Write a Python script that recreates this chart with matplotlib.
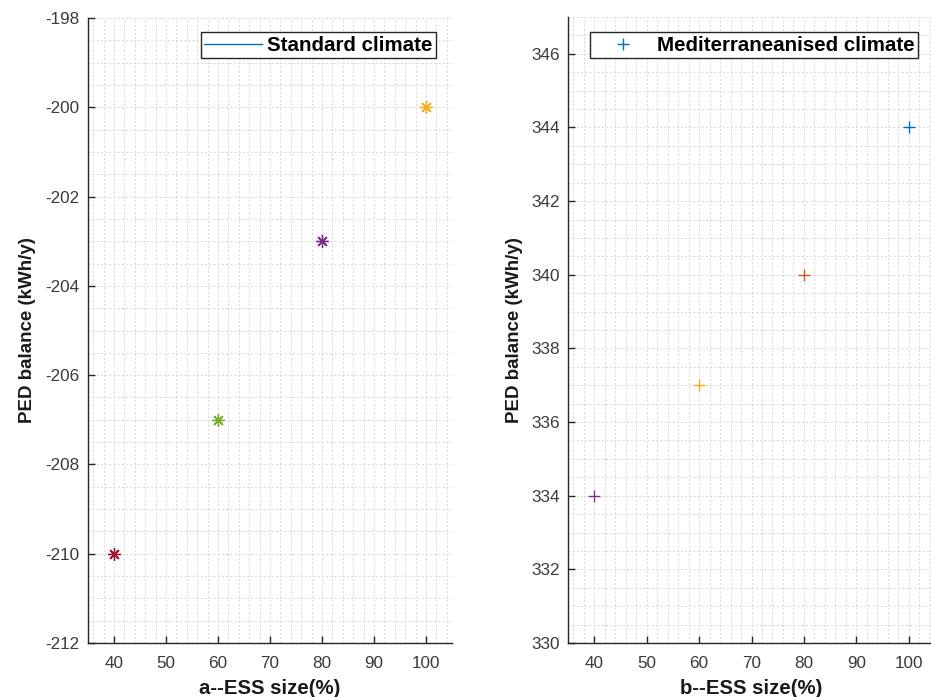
import matplotlib
matplotlib.use('Agg')
import matplotlib.pyplot as plt
from matplotlib.lines import Line2D
from matplotlib.ticker import MultipleLocator

# ESS size (%) and resulting PED balance (kWh/y)
ess_size = [40, 60, 80, 100]
standard_balance = [-210, -207, -203, -200]
medit_balance = [334, 337, 340, 344]

standard_colors = ['#A2142F', '#77AC30', '#7E2F8E', '#EDB120']
medit_colors = ['#7E2F8E', '#EDB120', '#D95319', '#0072BD']

plt.rcParams['font.family'] = ['Liberation Sans', 'DejaVu Sans']
plt.rcParams['axes.unicode_minus'] = False

W, H = 931, 697
fig = plt.figure(figsize=(W / 100, H / 100), dpi=100)

AX_COLOR = '#262626'
ASTERISK = (8, 2, 0)


def style_axes(ax, ylim, yticks):
    ax.set_xlim(35, 105)
    ax.set_ylim(*ylim)
    ax.set_xticks([40, 50, 60, 70, 80, 90, 100])
    ax.set_yticks(yticks)
    ax.xaxis.set_minor_locator(MultipleLocator(2))
    ax.yaxis.set_minor_locator(MultipleLocator(0.5))
    ax.set_axisbelow(True)
    ax.grid(which='both', color='#d9d9d9', linestyle=(0, (2, 2)), linewidth=0.75)
    for side in ('top', 'right'):
        ax.spines[side].set_visible(False)
    for side in ('left', 'bottom'):
        ax.spines[side].set_color(AX_COLOR)
        ax.spines[side].set_linewidth(1.0)
    ax.tick_params(which='major', direction='in', length=5, width=1.0,
                   color=AX_COLOR, labelcolor='#3a3a3a', labelsize=12.3)
    ax.tick_params(axis='x', which='major', pad=9)
    ax.tick_params(axis='y', which='major', pad=6)
    ax.tick_params(which='minor', length=0)


def legend_box(ax, handle, label, right_px):
    leg = ax.legend([handle], [label], loc='upper right',
                    bbox_to_anchor=(right_px / W, 1 - 32 / H), bbox_transform=fig.transFigure,
                    prop={'size': 14.8, 'weight': 'bold'}, handlelength=2.8, numpoints=1,
                    handletextpad=0.25, borderpad=0.18, borderaxespad=0,
                    fancybox=False, framealpha=1, edgecolor=AX_COLOR)
    leg.get_frame().set_linewidth(1.0)
    return leg


# (a) standard climate
ax1 = fig.add_axes([88 / W, 1 - 643 / H, 364 / W, 625 / H])
for x, y, c in zip(ess_size, standard_balance, standard_colors):
    ax1.plot([x], [y], linestyle='none', marker=ASTERISK, markersize=9,
             markeredgewidth=1.0, color=c)
style_axes(ax1, (-212, -198), list(range(-212, -197, 2)))
ax1.set_xlabel('a--ESS size(%)', fontsize=14.7, fontweight='bold', color='#1a1a1a', labelpad=6)
ax1.set_ylabel('PED balance (kWh/y)', fontsize=13.5, fontweight='bold', color='#1a1a1a', labelpad=7)
legend_box(ax1, Line2D([], [], color='#0072BD', linewidth=1.0), 'Standard climate', 436)

# (b) Mediterraneanised climate
ax2 = fig.add_axes([568 / W, 1 - 643 / H, 367 / W, 626 / H])
for x, y, c in zip(ess_size, medit_balance, medit_colors):
    ax2.plot([x], [y], linestyle='none', marker='+', markersize=9,
             markeredgewidth=1.0, color=c)
style_axes(ax2, (330, 347), list(range(330, 347, 2)))
ax2.set_xlabel('b--ESS size(%)', fontsize=14.7, fontweight='bold', color='#1a1a1a', labelpad=6)
ax2.set_ylabel('PED balance (kWh/y)', fontsize=13.5, fontweight='bold', color='#1a1a1a', labelpad=6)
legend_box(ax2, Line2D([], [], color='#0072BD', linestyle='none', marker='+',
                       markersize=9, markeredgewidth=1.0),
           'Mediterraneanised climate', 918)

fig.savefig('out.png', dpi=100)
